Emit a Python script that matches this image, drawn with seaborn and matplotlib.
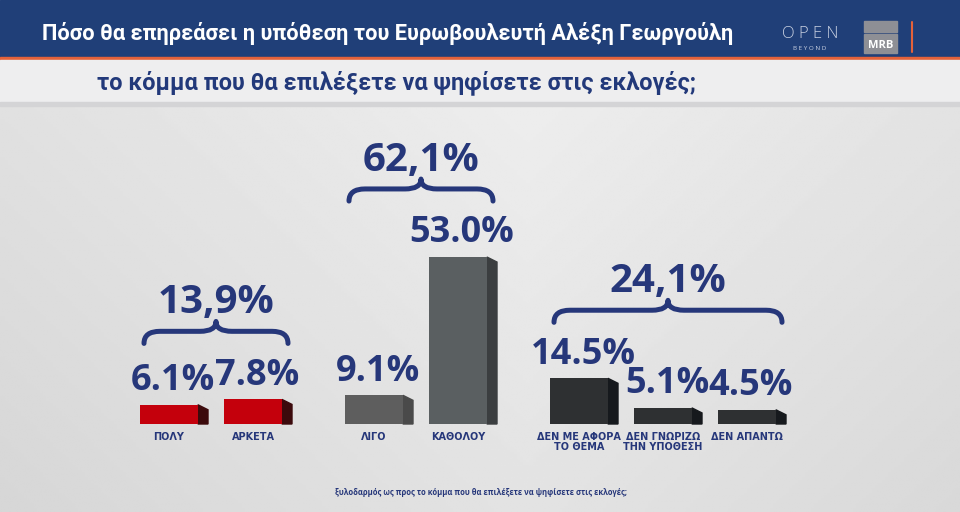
import numpy as np
import matplotlib
matplotlib.use("Agg")
import matplotlib.pyplot as plt
import seaborn as sns
from matplotlib.path import Path
from matplotlib.patches import PathPatch, Polygon, Rectangle

# --- data ---
categories = ["ΠΟΛΥ", "ΑΡΚΕΤΑ", "ΛΙΓΟ", "ΚΑΘΟΛΟΥ",
              "ΔΕΝ ΜΕ ΑΦΟΡΑ\nΤΟ ΘΕΜΑ", "ΔΕΝ ΓΝΩΡΙΖΩ\nΤΗΝ ΥΠΟΘΕΣΗ", "ΔΕΝ ΑΠΑΝΤΩ"]
values = [6.1, 7.8, 9.1, 53.0, 14.5, 5.1, 4.5]
groups = [0, 0, 1, 1, 2, 2, 2]
group_totals = [13.9, 62.1, 24.1]

title = "Πόσο θα επηρεάσει η υπόθεση του Ευρωβουλευτή Αλέξη Γεωργούλη"
subtitle = "το κόμμα που θα επιλέξετε να ψηφίσετε στις εκλογές;"
footnote = "ξυλοδαρμός ως προς το κόμμα που θα επιλέξετε να ψηφίσετε στις εκλογές;"

# --- style ---
navy = "#26377a"
front = ["#c4000c", "#c4000c", "#5e5e5e", "#5a5f61", "#2e3032", "#2e3032", "#2e3032"]
side = ["#3c0a0c", "#3c0a0c", "#4a4a4a", "#3b3e40", "#16191d", "#16191d", "#16191d"]

sns.set_theme(style="white")
plt.rcParams["font.family"] = ["Open Sans", "DejaVu Sans"]

# bar slots: fixed step inside a group, wider gap between groups
positions = []
x = 169
for i, g in enumerate(groups):
    if i > 0:
        x += 84 if g == groups[i - 1] else 121
    positions.append(x)

fig = plt.figure(figsize=(9.6, 5.12), dpi=100)

# decoration layer in pixel coordinates (y down)
deco = fig.add_axes([0, 0, 1, 1], zorder=0)
deco.set_xlim(0, 960)
deco.set_ylim(512, 0)
deco.axis("off")

yy, xx = np.mgrid[0:1:200j, 0:1:300j]
bg = 0.94 - 0.09 * np.abs(xx - 0.55) - 0.05 * yy
deco.imshow(bg, extent=(0, 960, 512, 0), cmap="gray", vmin=0, vmax=1,
            aspect="auto", zorder=0)

deco.add_patch(Rectangle((0, 0), 960, 57, color="#203f78", zorder=1))
deco.add_patch(Rectangle((0, 57), 960, 3, color="#e4623a", zorder=1))
deco.add_patch(Rectangle((0, 60), 960, 42, color="#eeeeef", zorder=1))
deco.add_patch(Rectangle((0, 102), 960, 4, color="#d4d4d6", zorder=1))

deco.text(42, 40, title, color="white", fontsize=15.7, fontweight="bold",
          family=["Roboto", "DejaVu Sans"], va="baseline", zorder=2)
deco.text(97, 89, subtitle, color="#22397a", fontsize=16.9, fontweight="bold",
          family=["Roboto", "DejaVu Sans"], va="baseline", zorder=2)

# logos
deco.text(810, 38, "O P E N", color="#c9d1e2", fontsize=12, fontweight="light",
          ha="center", va="baseline", zorder=2)
deco.text(810, 50, "B E Y O N D", color="#c9d1e2", fontsize=4.5, ha="center",
          va="baseline", zorder=2)
deco.add_patch(Rectangle((864, 21), 33, 11, color="#8e8f95", zorder=2))
deco.add_patch(Rectangle((864, 34), 33, 19, color="#8e8f95", zorder=2))
deco.text(880.5, 48, "MRB", color="white", fontsize=8, fontweight="bold",
          ha="center", va="baseline", zorder=3)
deco.plot([912, 912], [22, 52], color="#e4623a", lw=1.5, zorder=2)

deco.text(481, 495, footnote, color=navy, fontsize=5.5, fontweight="bold",
          ha="center", va="baseline", zorder=2)

# main bar axes
base_px = 424
top_px = 100
px_per_unit = 3.15
ax = fig.add_axes([0, 1 - base_px / 512, 1, (base_px - top_px) / 512], zorder=1)
ax.patch.set_alpha(0)

sns.barplot(x=positions, y=values, native_scale=True, width=58 / 84,
            color="gray", ax=ax)
ax.set_xlim(0, 960)
ax.set_ylim(0, (base_px - top_px) / px_per_unit)
sns.despine(ax=ax, left=True, bottom=True)
ax.set_yticks([])
ax.set_xticks(positions)
ax.set_xticklabels(categories, color=navy, fontsize=7, fontweight="bold",
                   family=["DejaVu Sans"], linespacing=1.0, va="top")
ax.tick_params(axis="x", length=0, pad=6)
ax.set_xlabel("")
ax.set_ylabel("")

to_px = lambda pts: deco.transData.inverted().transform(ax.transData.transform(pts))

for i, p in enumerate(ax.patches):
    p.set_facecolor(front[i])
    p.set_edgecolor("none")
    xr = p.get_x() + p.get_width()
    (rx, ty), (_, by) = to_px([(xr, p.get_height()), (xr, 0)])
    deco.add_patch(Polygon([(rx, ty), (rx + 10, ty + 5), (rx + 10, by), (rx, by)],
                           closed=True, color=side[i], zorder=3))
    ax.annotate(f"{values[i]:.1f}%", (positions[i] + 4, values[i]),
                xytext=(0, 4), textcoords="offset points", ha="center",
                va="bottom", color=navy, fontsize=26, fontweight="bold")


def brace(x0, x1, yb, h=22, k=16):
    ym = yb - 0.55 * h
    xm = (x0 + x1) / 2
    verts = [(x0, yb), (x0, ym), (x0 + k, ym), (xm - k, ym), (xm, ym), (xm, yb - h),
             (xm, ym), (xm + k, ym), (x1 - k, ym), (x1, ym), (x1, yb)]
    codes = [Path.MOVETO, Path.CURVE3, Path.CURVE3, Path.LINETO, Path.CURVE3,
             Path.CURVE3, Path.CURVE3, Path.CURVE3, Path.LINETO, Path.CURVE3,
             Path.CURVE3]
    deco.add_patch(PathPatch(Path(verts, codes), facecolor="none", edgecolor=navy,
                             lw=3.6, capstyle="round", joinstyle="round", zorder=3))


for g, total in enumerate(group_totals):
    idx = [i for i, gg in enumerate(groups) if gg == g]
    left = ax.patches[idx[0]]
    right = ax.patches[idx[-1]]
    top = max(values[i] for i in idx)
    (x0, ytop), = to_px([(left.get_x(), top)])
    (x1, _), = to_px([(right.get_x() + right.get_width(), top)])
    x0 += 4
    x1 += 6
    yb = ytop - 56
    brace(x0, x1, yb)
    deco.text((x0 + x1) / 2, yb - 30, f"{total:.1f}%".replace(".", ","),
              color=navy, fontsize=29, fontweight="bold", ha="center",
              va="baseline", zorder=3)

fig.savefig("out.png", dpi=100, facecolor=fig.get_facecolor())
